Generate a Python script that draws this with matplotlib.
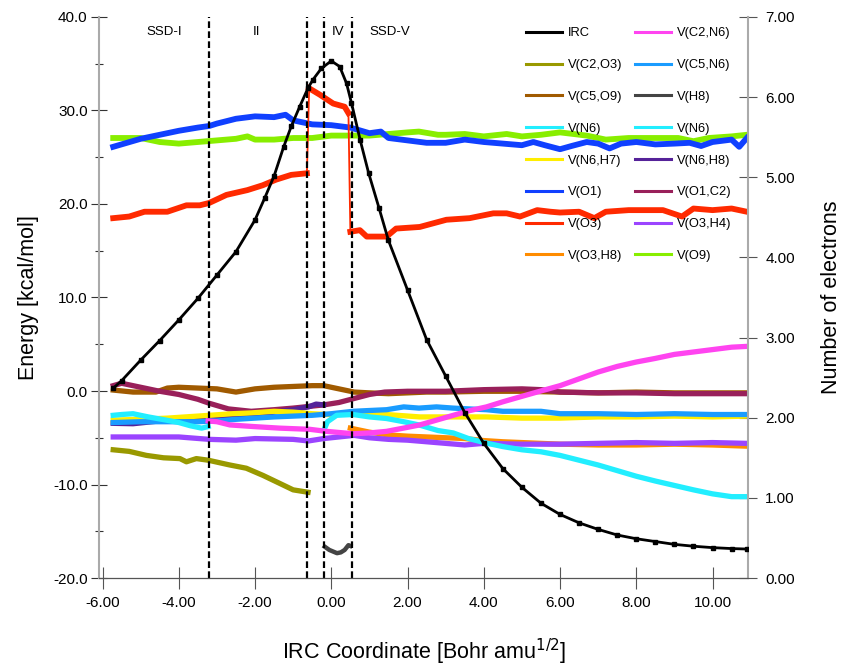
import matplotlib
matplotlib.use("Agg")
import matplotlib.pyplot as plt
from matplotlib.lines import Line2D
from matplotlib.ticker import MultipleLocator, FormatStrFormatter

plt.rcParams['font.family'] = ['Liberation Sans', 'DejaVu Sans']

# IRC energy profile (kcal/mol)
irc_x = [-5.72, -5.5, -5.0, -4.5, -4.0, -3.5, -3.0, -2.5, -2.0, -1.75, -1.5, -1.25, -1.05,
         -0.83, -0.61, -0.48, -0.26, 0.0, 0.22, 0.40, 0.53, 0.76, 0.98, 1.25, 1.5, 2.0, 2.5,
         3.0, 3.5, 4.0, 4.5, 5.0, 5.5, 6.0, 6.5, 7.0, 7.5, 8.0, 8.5, 9.0, 9.5, 10.0, 10.5, 10.9]
irc_e = [0.3, 1.1, 3.3, 5.4, 7.6, 9.9, 12.4, 14.9, 18.3, 20.6, 23.0, 26.1, 28.3,
         30.4, 32.4, 33.3, 34.5, 35.3, 34.7, 32.9, 30.8, 26.8, 23.3, 19.6, 16.1, 10.8, 5.5,
         1.6, -2.3, -5.6, -8.3, -10.3, -12.0, -13.2, -14.1, -14.8, -15.4, -15.8, -16.1, -16.4,
         -16.6, -16.75, -16.85, -16.9]

# basin populations (number of electrons)
o1_x = [-5.72, -5.0, -4.5, -4.0, -3.5, -3.2, -3.0, -2.5, -2.0, -1.5, -1.2, -1.0, -0.5, 0.0, 0.5,
        1.0, 1.3, 1.5, 2.0, 2.5, 3.0, 3.5, 4.0, 4.5, 5.0, 5.3, 5.6, 6.0, 6.3, 6.7, 7.0, 7.3,
        7.6, 8.0, 8.5, 9.0, 9.4, 9.7, 10.0, 10.5, 10.7, 10.9]
o1_n = [5.38, 5.48, 5.53, 5.58, 5.62, 5.64, 5.67, 5.73, 5.76, 5.75, 5.78, 5.71, 5.66, 5.65, 5.62,
        5.55, 5.57, 5.49, 5.46, 5.43, 5.43, 5.47, 5.44, 5.42, 5.40, 5.44, 5.40, 5.35, 5.39, 5.44,
        5.42, 5.36, 5.42, 5.44, 5.41, 5.42, 5.43, 5.39, 5.44, 5.47, 5.38, 5.49]

o9_x = [-5.72, -5.0, -4.5, -4.0, -3.5, -3.0, -2.5, -2.2, -2.0, -1.5, -1.0, -0.5, 0.0, 0.5, 1.0,
        1.5, 2.0, 2.3, 2.8, 3.0, 3.5, 4.0, 4.6, 5.0, 5.5, 6.0, 6.7, 7.2, 7.8, 8.5, 9.1, 9.5,
        9.9, 10.5, 10.9]
o9_n = [5.49, 5.49, 5.44, 5.42, 5.44, 5.46, 5.48, 5.51, 5.47, 5.47, 5.49, 5.49, 5.52, 5.52, 5.52,
        5.54, 5.56, 5.57, 5.53, 5.53, 5.54, 5.51, 5.54, 5.51, 5.53, 5.56, 5.52, 5.47, 5.49, 5.49,
        5.49, 5.45, 5.49, 5.51, 5.53]

o3_x = [-5.72, -5.3, -4.9, -4.3, -3.8, -3.45, -3.2, -2.75, -2.2, -1.8, -1.45, -1.05, -0.64,
        -0.58, -0.3, 0.05, 0.35, 0.45, 0.50, 0.75, 0.93, 1.45, 1.7, 2.32, 3.02, 3.63, 4.25,
        4.6, 4.95, 5.4, 5.75, 6.0, 6.5, 6.9, 7.2, 7.8, 8.7, 9.2, 9.5, 10.0, 10.5, 10.9]
o3_n = [4.49, 4.51, 4.57, 4.57, 4.65, 4.65, 4.68, 4.78, 4.84, 4.90, 4.97, 5.03, 5.05,
        6.11, 6.03, 5.92, 5.88, 5.80, 4.32, 4.34, 4.26, 4.26, 4.36, 4.38, 4.47, 4.49, 4.55,
        4.55, 4.51, 4.59, 4.57, 4.56, 4.57, 4.49, 4.57, 4.59, 4.59, 4.51, 4.61, 4.59, 4.61, 4.57]

c5o9_x = [-5.72, -5.2, -4.6, -4.3, -4.0, -3.5, -3.0, -2.5, -2.0, -1.5, -1.0, -0.5, -0.2, 0.2,
          0.6, 1.0, 1.5, 2.0, 2.5, 3.0, 4.0, 5.0, 6.0, 7.0, 8.0, 9.0, 10.0, 10.9]
c5o9_n = [2.345, 2.32, 2.32, 2.37, 2.38, 2.37, 2.36, 2.32, 2.36, 2.38, 2.39, 2.40, 2.40, 2.36,
          2.32, 2.31, 2.30, 2.31, 2.32, 2.32, 2.33, 2.33, 2.32, 2.31, 2.32, 2.31, 2.31, 2.31]

o1c2_x = [-5.72, -5.5, -5.0, -4.5, -4.0, -3.5, -3.2, -2.7, -2.1, -1.5, -1.0, -0.6, -0.2, 0.2,
          0.6, 1.0, 1.4, 2.0, 3.0, 4.0, 5.0, 5.5, 6.0, 7.0, 8.0, 9.0, 10.0, 10.9]
o1c2_n = [2.40, 2.43, 2.38, 2.33, 2.29, 2.23, 2.18, 2.11, 2.08, 2.10, 2.12, 2.14, 2.16, 2.19,
          2.24, 2.29, 2.32, 2.33, 2.33, 2.35, 2.36, 2.35, 2.32, 2.31, 2.31, 2.30, 2.30, 2.30]

c2o3_x = [-5.72, -5.3, -4.85, -4.4, -3.97, -3.8, -3.54, -3.23, -2.66, -2.23, -1.79, -1.35,
          -1.0, -0.61]
c2o3_n = [1.60, 1.58, 1.53, 1.50, 1.49, 1.45, 1.49, 1.47, 1.41, 1.37, 1.28, 1.18, 1.10, 1.07]

o3h4_x = [-5.72, -5.0, -4.0, -3.2, -2.5, -2.0, -1.0, -0.6, -0.2, 0.2, 0.6, 1.0, 1.5, 2.0,
          2.5, 3.0, 3.5, 4.0, 5.0, 6.0, 7.0, 8.0, 9.0, 10.0, 10.9]
o3h4_n = [1.76, 1.76, 1.76, 1.73, 1.72, 1.74, 1.73, 1.71, 1.74, 1.76, 1.78, 1.75, 1.73, 1.72,
          1.70, 1.68, 1.66, 1.68, 1.67, 1.67, 1.68, 1.69, 1.68, 1.69, 1.68]

o3h8_x = [0.5, 0.8, 1.0, 1.5, 2.0, 2.5, 3.0, 3.5, 4.0, 4.5, 5.0, 5.5, 6.0, 7.0, 8.0, 9.0,
          10.0, 10.9]
o3h8_n = [1.87, 1.84, 1.82, 1.785, 1.77, 1.76, 1.75, 1.74, 1.715, 1.70, 1.69, 1.68, 1.67,
          1.66, 1.66, 1.67, 1.66, 1.645]

n6a_x = [-5.72, -5.5, -5.2, -4.8, -4.33, -4.0, -3.7, -3.4, -3.23]
n6a_n = [2.03, 2.04, 2.05, 2.01, 1.97, 1.94, 1.90, 1.87, 1.89]

n6b_x = [-0.2, -0.1, 0.14, 0.57, 1.0, 1.45, 1.9, 2.3, 2.8, 3.2, 3.6, 4.1, 4.5, 5.0, 5.5,
         6.0, 6.5, 7.0, 7.5, 8.0, 8.5, 9.0, 9.5, 10.0, 10.5, 10.9]
n6b_n = [1.84, 1.95, 2.03, 2.04, 2.01, 1.99, 1.95, 1.91, 1.84, 1.81, 1.74, 1.68, 1.64, 1.60,
         1.575, 1.53, 1.47, 1.41, 1.34, 1.27, 1.21, 1.155, 1.10, 1.05, 1.015, 1.015]

c2n6_x = [-3.23, -3.0, -2.66, -2.05, -1.35, -0.56, -0.13, 0.57, 1.0, 1.45, 2.0, 2.32, 2.76,
          3.2, 3.64, 4.07, 4.51, 4.95, 5.47, 6.0, 6.5, 7.0, 7.5, 8.0, 8.5, 9.0, 9.5, 10.0,
          10.5, 10.9]
c2n6_n = [1.96, 1.95, 1.91, 1.89, 1.87, 1.855, 1.83, 1.80, 1.81, 1.83, 1.88, 1.91, 1.97,
          2.03, 2.09, 2.135, 2.20, 2.26, 2.33, 2.40, 2.485, 2.57, 2.64, 2.695, 2.74, 2.79,
          2.82, 2.85, 2.88, 2.89]

c5n6_x = [-5.72, -5.0, -4.3, -3.5, -3.0, -2.5, -2.0, -1.5, -1.0, -0.5, 0.0, 0.57, 1.0, 1.45,
          1.9, 2.3, 2.76, 3.2, 3.6, 4.07, 4.5, 5.0, 5.5, 6.0, 7.0, 8.0, 9.0, 10.0, 10.9]
c5n6_n = [1.94, 1.95, 1.95, 1.95, 1.96, 1.98, 1.995, 2.01, 2.02, 2.03, 2.05, 2.08, 2.09, 2.10,
          2.135, 2.12, 2.135, 2.12, 2.11, 2.10, 2.08, 2.08, 2.08, 2.05, 2.05, 2.04, 2.05, 2.04,
          2.04]

n6h7_x = [-5.72, -5.0, -4.3, -3.2, -2.6, -2.1, -1.5, -1.0, -0.5, -0.1, 0.57, 1.45, 2.32, 3.2,
          4.07, 5.0, 6.0, 7.0, 8.0, 9.0, 10.0, 10.9]
n6h7_n = [1.97, 1.98, 1.995, 2.03, 2.05, 2.06, 2.08, 2.07, 2.05, 2.04, 2.05, 2.04, 2.01, 2.01,
          2.01, 1.995, 1.995, 2.01, 2.01, 2.02, 2.01, 2.02]

n6h8_x = [-5.72, -5.2, -4.5, -4.0, -3.2, -2.6, -2.1, -1.5, -1.0, -0.6, -0.4, -0.2]
n6h8_n = [1.93, 1.925, 1.96, 1.97, 1.995, 2.01, 2.03, 2.07, 2.10, 2.135, 2.17, 2.16]

h8_x = [-0.17, -0.05, 0.05, 0.15, 0.25, 0.35, 0.45, 0.5]
h8_n = [0.39, 0.35, 0.33, 0.31, 0.32, 0.35, 0.41, 0.40]

# reaction-path separations (SSD domain borders)
ssd_borders = [-3.22, -0.625, -0.20, 0.55]
ssd_names = ["SSD-I", "II", "IV", "SSD-V"]
ssd_name_x = [-4.38, -1.96, 0.17, 1.53]

colors = {
    "IRC": "black", "V(C2,N6)": "#ff44f0", "V(C2,O3)": "#999900", "V(C5,N6)": "#1a9cff",
    "V(C5,O9)": "#a05a00", "V(H8)": "#444444", "V(N6)": "#22eeff", "V(N6,H7)": "#ffee00",
    "V(N6,H8)": "#552299", "V(O1)": "#1040ff", "V(O1,C2)": "#99205a", "V(O3)": "#ff2a00",
    "V(O3,H4)": "#9b44ff", "V(O3,H8)": "#ff8c00", "V(O9)": "#88ee00",
}

fig = plt.figure(figsize=(8.41, 6.68), dpi=100)
ax = fig.add_axes([0.1183, 0.1347, 0.8894 - 0.1183, 0.9746 - 0.1347])
ax2 = ax.twinx()

# basins on the electron axis
wide = 3.8
ax2.plot(o3h8_x, o3h8_n, color=colors["V(O3,H8)"], lw=wide)
ax2.plot(o3h4_x, o3h4_n, color=colors["V(O3,H4)"], lw=wide)
ax2.plot(c5o9_x, c5o9_n, color=colors["V(C5,O9)"], lw=wide)
ax2.plot(o1c2_x, o1c2_n, color=colors["V(O1,C2)"], lw=wide)
ax2.plot(n6h8_x, n6h8_n, color=colors["V(N6,H8)"], lw=wide)
ax2.plot(n6h7_x, n6h7_n, color=colors["V(N6,H7)"], lw=wide)
ax2.plot(c5n6_x, c5n6_n, color=colors["V(C5,N6)"], lw=wide)
ax2.plot(n6a_x, n6a_n, color=colors["V(N6)"], lw=wide)
ax2.plot(n6b_x, n6b_n, color=colors["V(N6)"], lw=wide)
ax2.plot(c2n6_x, c2n6_n, color=colors["V(C2,N6)"], lw=wide)
ax2.plot(c2o3_x, c2o3_n, color=colors["V(C2,O3)"], lw=wide)
ax2.plot(h8_x, h8_n, color=colors["V(H8)"], lw=3.2)
ax2.plot(o9_x, o9_n, color=colors["V(O9)"], lw=4.2)
ax2.plot(o1_x, o1_n, color=colors["V(O1)"], lw=4.2)
ax2.plot(o3_x, o3_n, color=colors["V(O3)"], lw=1.3)
for a, b in [(0, 13), (13, 18), (18, len(o3_x))]:
    ax2.plot(o3_x[a:b], o3_n[a:b], color=colors["V(O3)"], lw=4.2)

# IRC on the energy axis, drawn above the basins
ax.set_zorder(ax2.get_zorder() + 1)
ax.patch.set_visible(False)
ax.plot(irc_x, irc_e, color="black", lw=2.0, marker="s", ms=3.5)

for xb in ssd_borders:
    ax.axvline(xb, color="black", lw=1.6, ls=(0, (3, 1.5)))
for name, xn in zip(ssd_names, ssd_name_x):
    ax.text(xn, 38.4, name, ha="center", va="center", fontsize=9.5)

ax.set_xlim(-6.08, 10.93)
ax.set_ylim(-20, 40)
ax2.set_ylim(0, 7)

ax.xaxis.set_major_locator(MultipleLocator(2))
ax.xaxis.set_major_formatter(FormatStrFormatter("%.2f"))
ax.yaxis.set_major_locator(MultipleLocator(10))
ax.yaxis.set_minor_locator(MultipleLocator(5))
ax.yaxis.set_major_formatter(FormatStrFormatter("%.1f"))
ax2.yaxis.set_major_locator(MultipleLocator(1))
ax2.yaxis.set_major_formatter(FormatStrFormatter("%.2f"))

for a in (ax, ax2):
    a.spines["top"].set_visible(False)
ax.spines["right"].set_visible(False)
ax2.spines["left"].set_visible(False)
ax2.spines["bottom"].set_visible(False)
ax.spines["left"].set_color("#aaaaaa")
ax.spines["left"].set_linewidth(1.5)
ax2.spines["right"].set_color("#aaaaaa")
ax2.spines["right"].set_linewidth(1.5)
ax.spines["bottom"].set_color("#555555")
ax.spines["bottom"].set_linewidth(0.9)

ax.tick_params(axis="y", which="major", direction="inout", length=11, width=0.8,
               color="#333333", labelsize=11, pad=3)
ax.tick_params(axis="y", which="minor", direction="inout", length=6, width=0.8,
               color="#333333")
ax.tick_params(axis="x", which="major", direction="inout", length=16, width=0.8,
               color="#555555", labelsize=11, pad=5)
ax2.tick_params(axis="y", which="major", direction="inout", length=13, width=0.8,
                color="#555555", labelsize=11, pad=6)

ax.set_xlabel("IRC Coordinate [Bohr amu$^{1/2}$]", fontsize=15.5, labelpad=19)
ax.set_ylabel("Energy [kcal/mol]", fontsize=15.5, labelpad=10)
ax2.set_ylabel("Number of electrons", fontsize=15.5, labelpad=19)

order = ["IRC", "V(C2,O3)", "V(C5,O9)", "V(N6)", "V(N6,H7)", "V(O1)", "V(O3)", "V(O3,H8)",
         "V(C2,N6)", "V(C5,N6)", "V(H8)", "V(N6)", "V(N6,H8)", "V(O1,C2)", "V(O3,H4)", "V(O9)"]
handles = [Line2D([], [], color=colors[k], lw=2.2) for k in order]
ax.legend(handles, order, ncol=2, loc="upper left", bbox_to_anchor=(0.6254, 0.9591),
          bbox_transform=fig.transFigure, frameon=False, fontsize=9.3, borderpad=0,
          borderaxespad=0, handlelength=2.77, handletextpad=0.49, columnspacing=0.97,
          labelspacing=1.53)

fig.savefig("out.png", dpi=100)
